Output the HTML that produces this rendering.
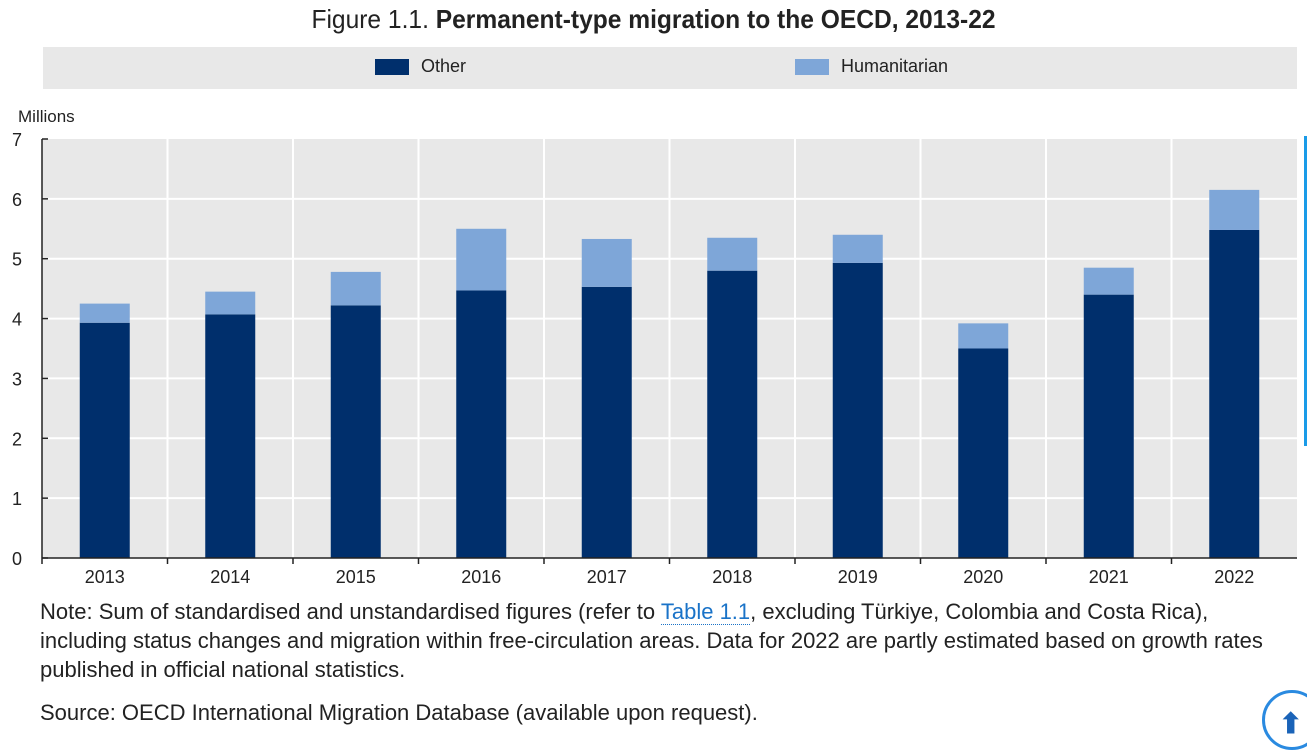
<!DOCTYPE html>
<html><head><meta charset="utf-8"><style>
body{margin:0;width:1307px;height:729px;background:#fff;overflow:hidden;font-family:"Liberation Sans",sans-serif;position:relative}
.t{position:absolute}
</style></head><body>
<div class="t" style="left:0;width:1307px;top:4px;text-align:center;font-size:26px;color:#222;transform:scaleX(0.945)">Figure 1.1. <b>Permanent-type migration to the OECD, 2013-22</b></div>
<div class="t" style="left:43px;top:47px;width:1254px;height:42px;background:#e8e8e8">
 <div class="t" style="left:332px;top:12px;width:34px;height:16px;background:#002f6c"></div>
 <div class="t" style="left:378px;top:9px;font-size:18px;color:#222">Other</div>
 <div class="t" style="left:752px;top:12px;width:34px;height:16px;background:#7ea6d8"></div>
 <div class="t" style="left:798px;top:9px;font-size:18px;color:#222">Humanitarian</div>
</div>
<div class="t" style="left:18px;top:107px;font-size:17px;color:#222">Millions</div>
<svg class="t" style="left:0;top:0" width="1307" height="729" id="svg"></svg>
<div class="t" style="left:40px;top:597px;font-size:22px;line-height:29px;color:#222;white-space:nowrap">Note: Sum of standardised and unstandardised figures (refer to <span style="color:#1a73c8;border-bottom:1px dotted #1a73c8">Table 1.1</span>, excluding Türkiye, Colombia and Costa Rica),<br>including status changes and migration within free-circulation areas. Data for 2022 are partly estimated based on growth rates<br>published in official national statistics.</div>
<div class="t" style="left:40px;top:700px;font-size:22px;color:#222">Source: OECD International Migration Database (available upon request).</div>
<div class="t" style="left:1262px;top:690px;width:60px;height:60px;border-radius:50%;background:#fff;border:3px solid #2a8ae0;box-sizing:border-box"><div style="position:absolute;left:14px;top:14px;color:#1a63b8;font-size:28px;font-weight:bold">⬆</div></div>
<div class="t" style="left:1304px;top:136px;width:3px;height:310px;background:#1a9be8"></div>
<script>
const categories=["2013","2014","2015","2016","2017","2018","2019","2020","2021","2022"];
const other=[3.93,4.07,4.22,4.47,4.53,4.8,4.93,3.5,4.4,5.48];
const humanitarian=[0.32,0.38,0.56,1.03,0.8,0.55,0.47,0.42,0.45,0.67];
const yTicks=[0,1,2,3,4,5,6,7];
const svg=document.getElementById('svg');const NS='http://www.w3.org/2000/svg';
const L=42,R=1297,T=139,B=558,ymax=7;
const y=v=>B-(B-T)*v/ymax;const bw=(R-L)/categories.length;const x=i=>L+bw*i;
function mk(t,a,txt){const e=document.createElementNS(NS,t);for(const k in a)e.setAttribute(k,a[k]);if(txt!=null)e.textContent=txt;svg.appendChild(e);return e;}
let e=mk('rect',{x:L,y:T,width:R-L,height:B-T,fill:'#e8e8e8'});


yTicks.forEach(v=>{if(v>0&&v<ymax){mk('line',{x1:L,x2:R,y1:y(v),y2:y(v),stroke:'#fff','stroke-width':2});}
 const t=mk('text',{x:12,y:y(v)+7,'font-size':18,fill:'#222','font-family':'Liberation Sans'},v);
 
 
 mk('line',{x1:L,x2:L+6,y1:y(v),y2:y(v),stroke:'#222','stroke-width':1.5});});
categories.forEach((c,i)=>{if(i>0)mk('line',{x1:x(i),x2:x(i),y1:T,y2:B,stroke:'#fff','stroke-width':2});
 const cx=x(i)+bw/2,w=50;
 let r=mk('rect',{x:cx-w/2,y:y(other[i]),width:w,height:B-y(other[i]),fill:'#002f6c'});
 
 
 const top=other[i]+humanitarian[i];
 r=mk('rect',{x:cx-w/2,y:y(top),width:w,height:y(other[i])-y(top),fill:'#7ea6d8'});
 
 
 mk('line',{x1:x(i),x2:x(i),y1:B,y2:B+6,stroke:'#222','stroke-width':1.5});
 const t=mk('text',{x:cx,y:B+25,'font-size':18,fill:'#222','text-anchor':'middle','font-family':'Liberation Sans'},c);
 
 });
mk('line',{x1:L,x2:L,y1:T,y2:B,stroke:'#222','stroke-width':1.5});
mk('line',{x1:L,x2:R,y1:B,y2:B,stroke:'#222','stroke-width':1.5});
</script>
</body></html>
